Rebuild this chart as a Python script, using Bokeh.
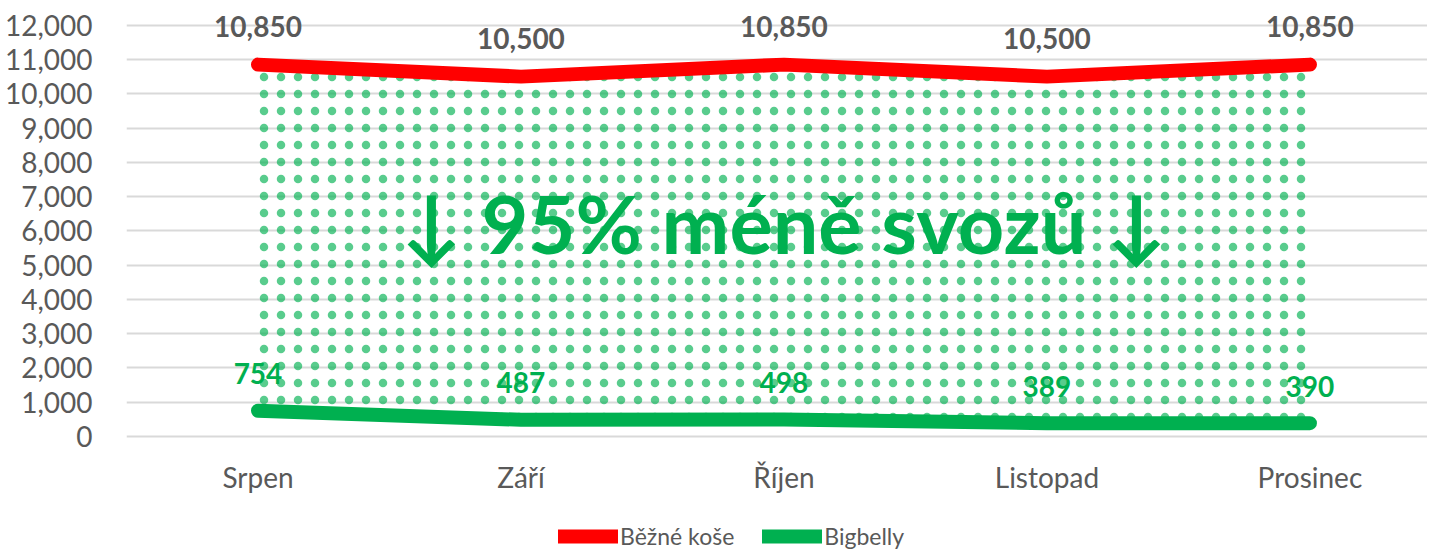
from bokeh.plotting import figure
from bokeh.models import (Range1d, FixedTicker, Legend, LegendItem, Label,
                          ColumnDataSource, NumeralTickFormatter)
from bokeh.core.properties import value
from bokeh.embed import file_html
from bokeh.resources import INLINE

months = ["Srpen", "Září", "Říjen", "Listopad", "Prosinec"]
bezne = [10850, 10500, 10850, 10500, 10850]
bigbelly = [754, 487, 498, 389, 390]
y_ticks = [0, 1000, 2000, 3000, 4000, 5000, 6000, 7000, 8000, 9000, 10000, 11000, 12000]

RED = "#FF0000"
GREEN = "#00B050"
GREY = "#595959"
FONT = "Lato"

xs = [i + 0.5 for i in range(len(months))]
src = ColumnDataSource(dict(
    x=xs, bezne=bezne, bigbelly=bigbelly,
    bezne_lbl=[f"{v:,}" for v in bezne],
    big_lbl=[f"{v:,}" for v in bigbelly],
))

# frame runs from the top down to the bottom of the page; the area below 0
# holds the category labels and the legend
p = figure(frame_width=1301, frame_height=539, output_backend="svg",
           toolbar_location=None,
           x_range=Range1d(0, 4.947), y_range=Range1d(-3326, 12400),
           min_border_left=126, min_border_right=0, min_border_top=11,
           min_border_bottom=0)
p.outline_line_color = None
p.background_fill_color = "white"

# hatched area between the two series
p.varea(x="x", y1="bigbelly", y2="bezne", source=src, fill_alpha=0,
        hatch_pattern=".", hatch_color=GREEN, hatch_scale=17, hatch_weight=0.8,
        hatch_alpha=0.65)

r_red = p.line("x", "bezne", source=src, line_color=RED, line_width=14,
               line_cap="round", line_join="round")
r_green = p.line("x", "bigbelly", source=src, line_color=GREEN, line_width=14,
                 line_cap="round", line_join="round")

p.text("x", "bezne", text="bezne_lbl", source=src, text_font=value(FONT),
       text_font_style="bold", text_font_size="28px", text_color=GREY,
       text_align="center", text_baseline="middle", y_offset=-38)
p.text("x", "bigbelly", text="big_lbl", source=src, text_font=value(FONT),
       text_font_style="bold", text_font_size="28px", text_color=GREEN,
       text_align="center", text_baseline="middle", y_offset=-37)

p.add_layout(Label(x=2.5, y=6250, text="↓ 95% méně svozů ↓", text_font=FONT,
                   text_font_style="bold", text_font_size="81px",
                   text_color=GREEN, text_align="center", text_baseline="middle"))

# axes
p.yaxis.ticker = FixedTicker(ticks=y_ticks)
p.yaxis.formatter = NumeralTickFormatter(format="0,0")
p.yaxis.axis_line_color = None
p.yaxis.major_tick_line_color = None
p.yaxis.minor_tick_line_color = None
p.yaxis.major_label_text_font = FONT
p.yaxis.major_label_text_font_size = "28px"
p.yaxis.major_label_text_color = GREY
p.yaxis.major_label_standoff = 28

p.xaxis.fixed_location = 0
p.xaxis.ticker = FixedTicker(ticks=xs)
p.xaxis.major_label_overrides = {x: m for x, m in zip(xs, months)}
p.xaxis.axis_line_color = None
p.xaxis.major_tick_line_color = None
p.xaxis.minor_tick_line_color = None
p.xaxis.major_tick_out = 0
p.xaxis.major_label_text_font = FONT
p.xaxis.major_label_text_font_size = "28px"
p.xaxis.major_label_text_color = GREY
p.xaxis.major_label_standoff = 23

p.xgrid.grid_line_color = None
p.ygrid.ticker = FixedTicker(ticks=y_ticks)
p.ygrid.grid_line_color = "#D9D9D9"
p.ygrid.grid_line_width = 2

legend = Legend(items=[LegendItem(label="Běžné koše", renderers=[r_red]),
                       LegendItem(label="Bigbelly", renderers=[r_green])],
                orientation="horizontal", location=(432, 0),
                label_text_font=FONT, label_text_font_size="23px",
                label_text_color=GREY, glyph_width=60, glyph_height=22,
                label_standoff=2, spacing=28, padding=0, margin=0,
                border_line_color=None, background_fill_alpha=0)
p.add_layout(legend, "center")

open("out.html", "w").write(file_html(p, INLINE))
